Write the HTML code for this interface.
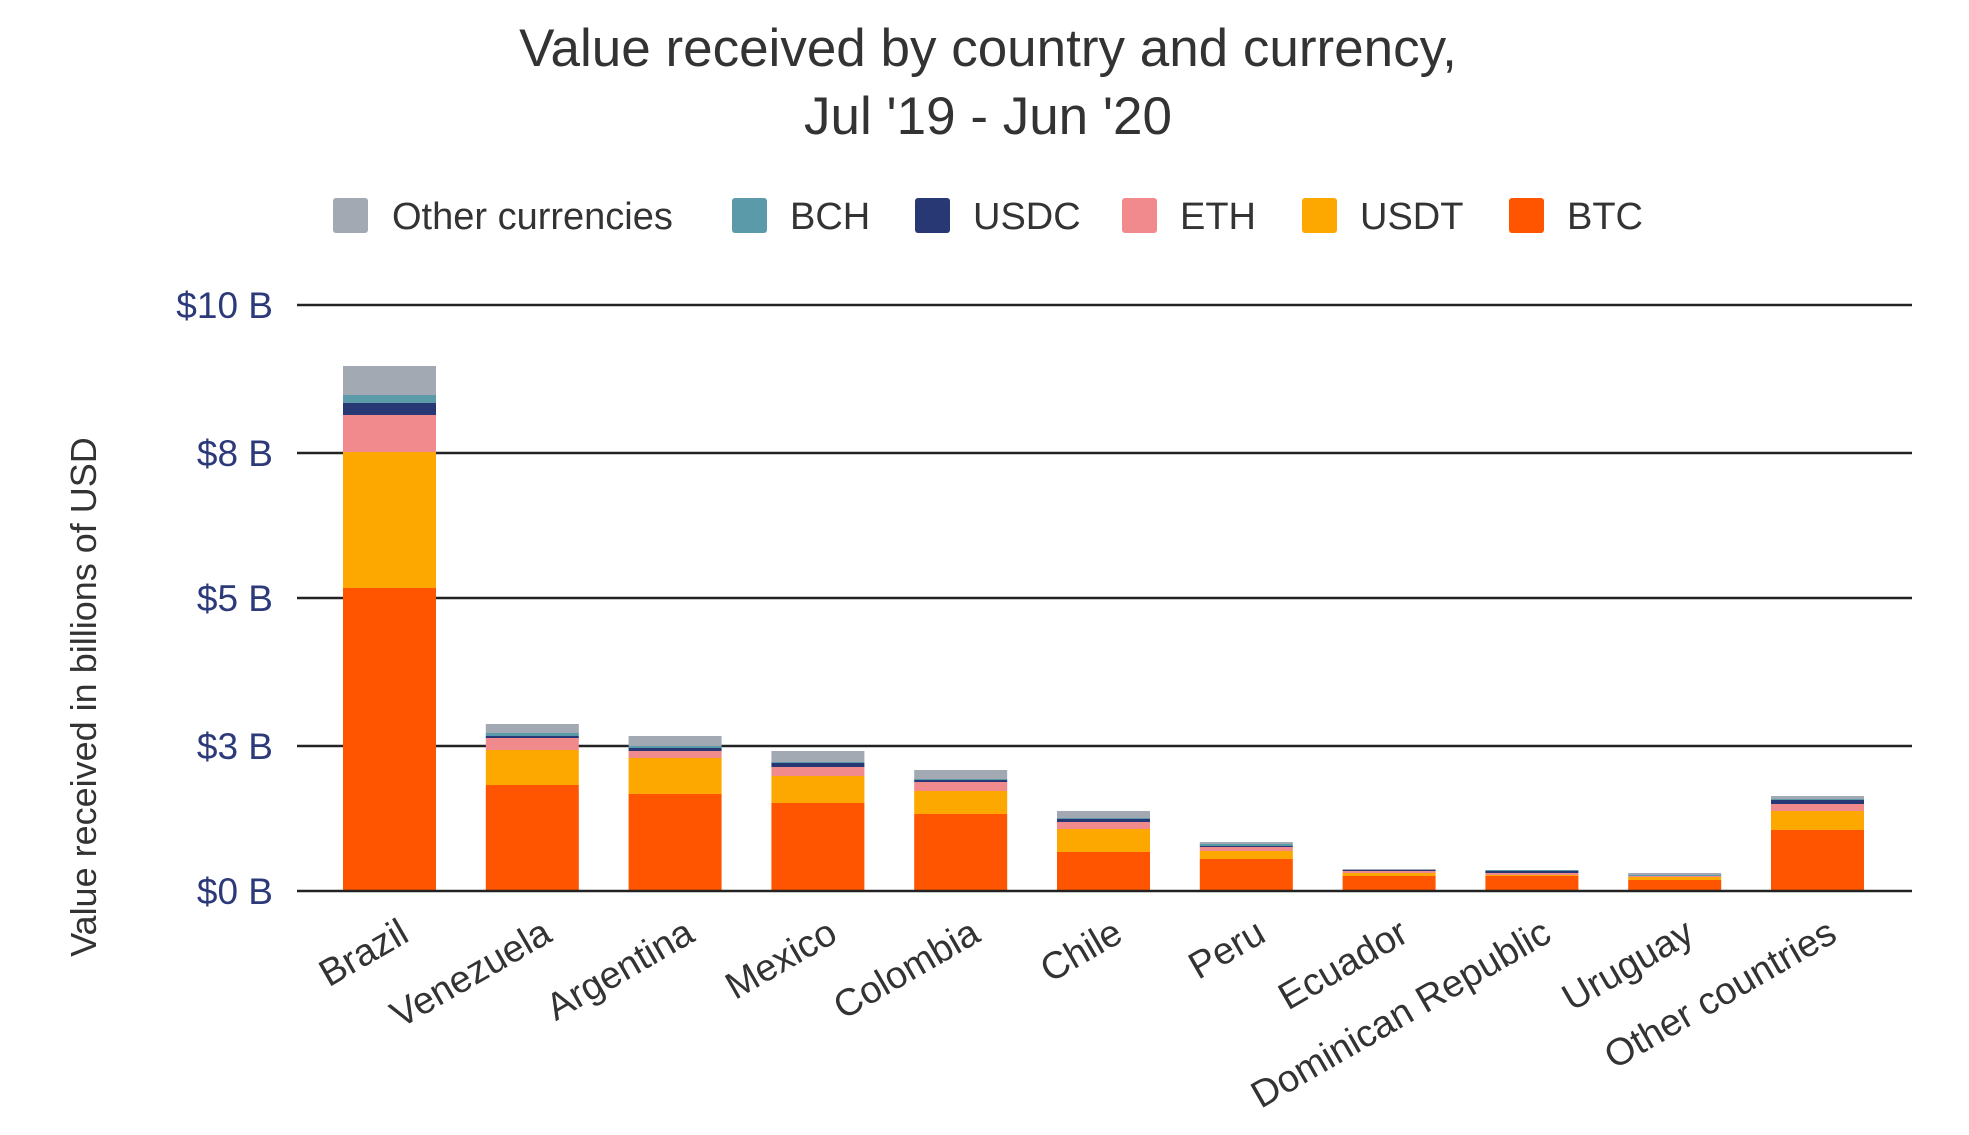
<!DOCTYPE html>
<html><head><meta charset="utf-8"><style>html,body{margin:0;padding:0;background:#fff}svg{display:block}text{font-family:"Liberation Sans",sans-serif}</style></head>
<body>
<svg width="1969" height="1135" viewBox="0 0 1969 1135" xmlns="http://www.w3.org/2000/svg">
<rect width="1969" height="1135" fill="#fff"/>
<g fill="#333" font-size="53" text-anchor="middle">
<text x="988" y="66">Value received by country and currency,</text>
<text x="988" y="134">Jul '19 - Jun '20</text>
</g>
<g font-size="38" fill="#333">
<rect x="333" y="198" width="35" height="35" rx="3" fill="#a2a9b3"/><text x="392" y="229">Other currencies</text>
<rect x="732" y="198" width="35" height="35" rx="3" fill="#5b9aa8"/><text x="790" y="229">BCH</text>
<rect x="915" y="198" width="35" height="35" rx="3" fill="#283874"/><text x="973" y="229">USDC</text>
<rect x="1122" y="198" width="35" height="35" rx="3" fill="#f08a8d"/><text x="1180" y="229">ETH</text>
<rect x="1302" y="198" width="35" height="35" rx="3" fill="#fca800"/><text x="1360" y="229">USDT</text>
<rect x="1509" y="198" width="35" height="35" rx="3" fill="#ff5500"/><text x="1567" y="229">BTC</text>
</g>
<g stroke="#222" stroke-width="2.5">
<line x1="297" x2="1912" y1="305" y2="305"/><line x1="297" x2="1912" y1="453" y2="453"/>
<line x1="297" x2="1912" y1="598" y2="598"/><line x1="297" x2="1912" y1="746" y2="746"/>
</g>
<g font-size="37" fill="#2d3a7a" text-anchor="end">
<text x="273" y="318">$10 B</text><text x="273" y="466">$8 B</text><text x="273" y="611">$5 B</text>
<text x="273" y="759">$3 B</text><text x="273" y="904">$0 B</text>
</g>
<text transform="translate(96,697) rotate(-90)" text-anchor="middle" font-size="36" fill="#333">Value received in billions of USD</text>
<g id="bars"></g>
<line x1="297" x2="1912" y1="891" y2="891" stroke="#222" stroke-width="2.5"/>
<g id="labels" font-size="38" fill="#333" text-anchor="end"></g>
<script>
var cols=["#ff5500","#fca800","#f08a8d","#283874","#5b9aa8","#a2a9b3"];
var d=[["Brazil",[588,452,415,403,395,366]],["Venezuela",[785,750,738,736,733,724]],["Argentina",[794,758,751,748,746,736]],["Mexico",[803,776,767,763,762,751]],["Colombia",[814,791,782,780,779,770]],["Chile",[852,829,822,819,818,811]],["Peru",[859,851,847,846,844,842]],["Ecuador",[876,873,871,870,870,869]],["Dominican Republic",[876,875,873,871,870,870]],["Uruguay",[880,877,876,876,875,873]],["Other countries",[830,811,804,800,799,796]]];
var ns="http://www.w3.org/2000/svg",b=document.getElementById("bars"),l=document.getElementById("labels");
d.forEach(function(r,i){var cx=389+i*142.8,x=cx-46,prev=891;
r[1].forEach(function(t,j){var e=document.createElementNS(ns,"rect");e.setAttribute("x",x);e.setAttribute("width",93);e.setAttribute("y",t);e.setAttribute("height",Math.max(prev-t,0));e.setAttribute("fill",cols[j]);b.appendChild(e);prev=t;});
var tx=document.createElementNS(ns,"text");tx.setAttribute("transform","translate("+(cx+22)+",940) rotate(-30)");tx.textContent=r[0];l.appendChild(tx);});
</script>
</svg>
</body></html>
